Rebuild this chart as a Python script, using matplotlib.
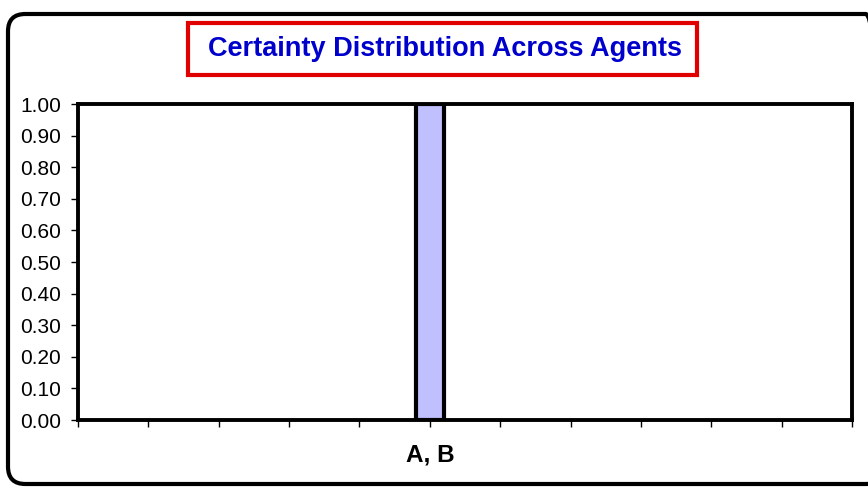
import matplotlib
matplotlib.use("Agg")
import matplotlib.pyplot as plt
from matplotlib.patches import FancyBboxPatch, Rectangle
from matplotlib.transforms import blended_transform_factory

# chart data
categories = ["A, B"]
certainty = [1.0]
cat_pos = [5]          # slot of the category on the 0..11 axis
y_ticks = [i / 10 for i in range(11)]
x_ticks = list(range(12))

W, H = 868, 487
plt.rcParams['font.family'] = ['Liberation Sans', 'DejaVu Sans']

fig = plt.figure(figsize=(W / 100, H / 100), dpi=100)


def px_box(x0, y0, x1, y1):
    """pixel box (top-left origin) -> figure fraction rect"""
    return [x0 / W, 1 - y1 / H, (x1 - x0) / W, (y1 - y0) / H]


# outer rounded frame (runs past the right edge)
frame = FancyBboxPatch((8 / W, 3 / H), 875 / W, 470 / H,
                       boxstyle="round,pad=0,rounding_size=0.02",
                       mutation_aspect=W / H,
                       transform=fig.transFigure, fill=False,
                       edgecolor="black", linewidth=3)
fig.patches.append(frame)

# title inside red box
fig.patches.append(Rectangle((188 / W, 1 - 75 / H), (697 - 188) / W, (75 - 23) / H,
                             transform=fig.transFigure, fill=False,
                             edgecolor="#E00000", linewidth=3))
fig.text(445 / W, 1 - 49 / H, "Certainty Distribution Across Agents",
         ha="center", va="center", color="#0000CC",
         fontsize=19.5, fontweight="bold")

ax = fig.add_axes(px_box(78, 104, 852, 420))
ax.bar(cat_pos, certainty, width=0.39, color="#C0C0FF",
       edgecolor="black", linewidth=3, zorder=3)

ax.set_xlim(0, 11)
ax.set_ylim(0, 1)
ax.set_yticks(y_ticks)
ax.set_yticklabels([f"{v:.2f}" for v in y_ticks], fontsize=15)
ax.set_xticks(x_ticks)
ax.set_xticklabels([])
ax.tick_params(axis="y", direction="out", length=5, width=1, pad=7)
ax.tick_params(axis="x", direction="out", length=5, width=1)

for sp in ax.spines.values():
    sp.set_linewidth(2.8)
    sp.set_zorder(4)

trans = blended_transform_factory(ax.transData, ax.transAxes)
for pos, name in zip(cat_pos, categories):
    ax.text(pos, -0.11, name, transform=trans, ha="center", va="center",
            fontsize=17.5, fontweight="bold")

fig.savefig("out.png", dpi=100)
